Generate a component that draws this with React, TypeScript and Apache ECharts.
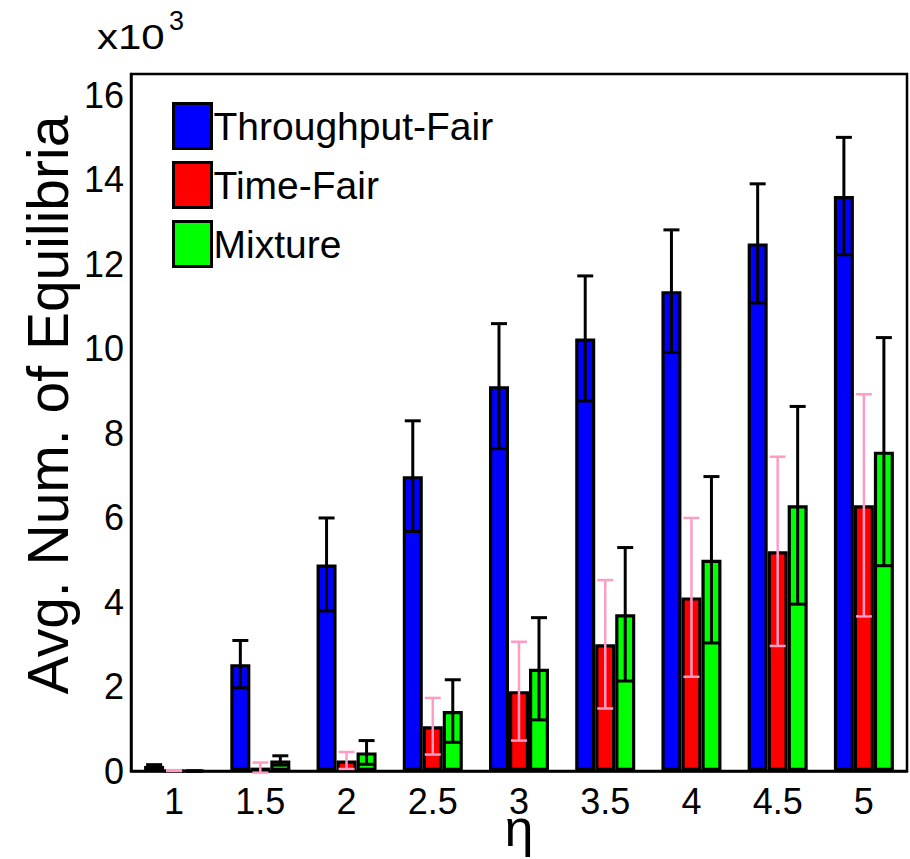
import React, { useEffect, useRef } from "react";
import * as echarts from "echarts";

const categories = ["1", "1.5", "2", "2.5", "3", "3.5", "4", "4.5", "5"];
const seriesNames = ["Throughput-Fair", "Time-Fair", "Mixture"];
const throughputFair = [0.12, 2.53, 4.89, 6.98, 9.11, 10.24, 11.36, 12.49, 13.61];
const throughputFairErr = [0.03, 0.56, 1.1, 1.31, 1.48, 1.48, 1.45, 1.41, 1.39];
const timeFair = [0.01, 0.08, 0.25, 1.06, 1.89, 3.0, 4.11, 5.2, 6.29];
const timeFairErr = [0.01, 0.12, 0.2, 0.67, 1.17, 1.52, 1.88, 2.24, 2.63];
const mixture = [0, 0.25, 0.44, 1.42, 2.42, 3.71, 5.0, 6.29, 7.56];
const mixtureErr = [0, 0.11, 0.28, 0.74, 1.21, 1.58, 1.97, 2.34, 2.7];

const barColors = ["#0000ff", "#ff0000", "#00ff00"];
const errColors = ["#000000", "#ff9cc6", "#000000"];
const FONT = "'Liberation Sans', Arial, Helvetica, sans-serif";
const BAR_W = 20;

export default function App() {
  const ref = useRef<HTMLDivElement>(null);
  useEffect(() => {
    if (!ref.current) return;
    const chart = echarts.init(ref.current, null, { renderer: "svg" });
    const means = [throughputFair, timeFair, mixture];
    const errs = [throughputFairErr, timeFairErr, mixtureErr];

    const barSeries = means.map((m, s) => ({
      name: seriesNames[s],
      type: "bar",
      data: m,
      barWidth: BAR_W,
      barGap: "0%",
      z: 2,
      itemStyle: { color: barColors[s], borderColor: "#000", borderWidth: 3.2 },
    }));

    const errSeries = means.map((m, s) => ({
      name: seriesNames[s] + " err",
      type: "custom",
      z: 5,
      silent: true,
      data: m.map((v, i) => [i, v, errs[s][i]]),
      renderItem: (params: any, api: any) => {
        const idx = api.value(0);
        const mean = api.value(1);
        const err = api.value(2);
        const off = (s - 1) * BAR_W;
        const top = api.coord([idx, mean + err]);
        const bot = api.coord([idx, mean - err]);
        const x = top[0] + off;
        const hw = 8;
        const style = { stroke: errColors[s], lineWidth: s === 1 ? 2.5 : 3, fill: null };
        return {
          type: "group",
          children: [
            { type: "line", shape: { x1: x, y1: top[1], x2: x, y2: bot[1] }, style },
            { type: "line", shape: { x1: x - hw, y1: top[1], x2: x + hw, y2: top[1] }, style },
            { type: "line", shape: { x1: x - hw, y1: bot[1], x2: x + hw, y2: bot[1] }, style },
          ],
        };
      },
    }));

    chart.setOption({
      animation: false,
      backgroundColor: "#fff",
      textStyle: { fontFamily: FONT },
      grid: {
        left: 131,
        right: 3,
        top: 74,
        bottom: 88,
        show: true,
        borderColor: "#000",
        borderWidth: 2.5,
        backgroundColor: "#fff",
        outerBoundsMode: "none",
        containLabel: false,
      },
      legend: {
        data: seriesNames,
        orient: "vertical",
        left: 167,
        top: 97,
        itemWidth: 38,
        itemHeight: 45,
        itemGap: 11,
        icon: "rect",
        itemStyle: { borderColor: "#000", borderWidth: 3 },
        textStyle: { fontSize: 39, color: "#000", fontFamily: FONT, padding: [0, 0, 0, -3] },
      },
      xAxis: {
        type: "category",
        data: categories,
        axisLine: { lineStyle: { color: "#000", width: 2.5 } },
        axisTick: { show: false },
        axisLabel: { fontSize: 36, lineHeight: 26, color: "#000", margin: 17, fontFamily: FONT },
        name: "η",
        nameLocation: "middle",
        nameGap: 44,
        nameMoveOverlap: false,
        nameTextStyle: { fontSize: 52, lineHeight: 26, color: "#000", fontFamily: FONT, verticalAlign: "top" },
      },
      yAxis: {
        type: "value",
        min: 0,
        max: 16.5,
        interval: 2,
        axisLine: { show: true, lineStyle: { color: "#000", width: 2.5 } },
        axisTick: { show: false },
        splitLine: { show: false },
        axisLabel: { fontSize: 36, color: "#000", margin: 7, showMaxLabel: false, fontFamily: FONT },
      },
      graphic: [
        {
          type: "text",
          x: 48,
          y: 405,
          rotation: Math.PI / 2,
          style: {
            text: "Avg. Num. of Equilibria",
            fill: "#000",
            font: `57px ${FONT}`,
            textAlign: "center",
            textVerticalAlign: "middle",
          },
        },
        { type: "text", x: 97, y: 54, scaleX: 1.2, style: { text: "x10", fill: "#000", font: `35px ${FONT}`, textVerticalAlign: "bottom" } },
        { type: "text", x: 169, y: 34, style: { text: "3", fill: "#000", font: `27px ${FONT}`, textVerticalAlign: "bottom" } },
      ],
      series: [...barSeries, ...errSeries],
    });
    return () => chart.dispose();
  }, []);
  return <div ref={ref} style={{ position: "fixed", left: 0, top: 0, width: 910, height: 859 }} />;
}
